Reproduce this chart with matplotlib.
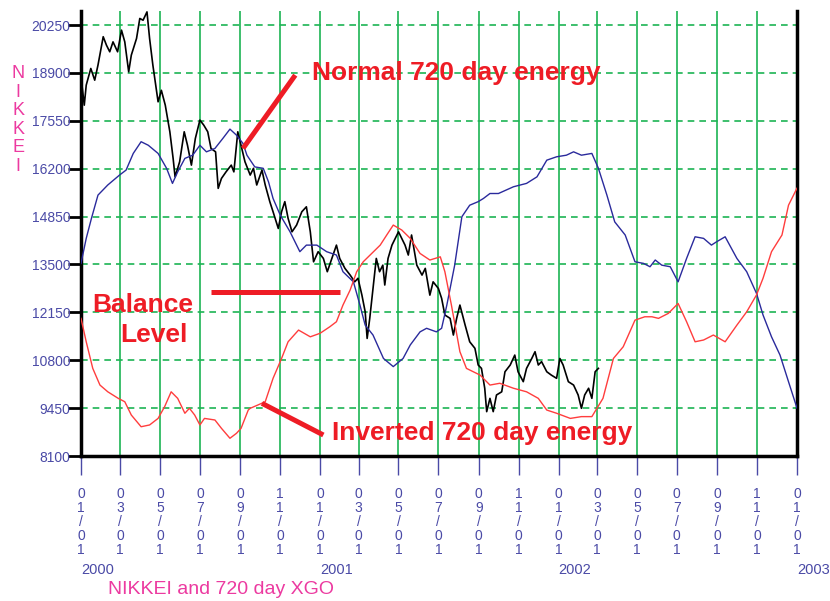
import numpy as np
import pandas as pd
import matplotlib
matplotlib.use('Agg')
import matplotlib.pyplot as plt

plt.rcParams['font.family'] = ['Liberation Sans', 'DejaVu Sans']

# ---- data (days since 2000-01-01) ----
# NIKKEI close
nikkei_day = [0, 5, 8, 15, 21, 26, 34, 39, 44, 49, 56, 62, 67, 73, 77, 85, 90, 95, 101, 105,
              110, 118, 123, 129, 136, 141, 144, 151, 158, 163, 169, 175, 182, 188, 194, 199,
              206, 210, 215, 222, 230, 234, 240, 245, 251, 259, 264, 269, 277, 282, 289, 294,
              302, 307, 312, 317, 323, 330, 338, 345, 351, 356, 363, 371, 377, 384, 391, 396,
              404, 412, 419, 424, 430, 435, 438, 442, 447, 452, 457, 462, 465, 470, 476, 481,
              486, 491, 496, 501, 506, 514, 522, 527, 534, 539, 547, 552, 557, 565, 570, 575,
              580, 588, 595, 603, 608, 613, 618, 621, 626, 631, 636, 644, 649, 657, 664, 669,
              677, 682, 690, 695, 700, 705, 713, 720, 728, 733, 738, 746, 754, 761, 766, 771,
              777, 782, 787, 792]
nikkei_val = [18790, 17990, 18555, 19025, 18695, 19120, 19920, 19680, 19495, 19775, 19495, 20105,
              19775, 18930, 19400, 19870, 20435, 20385, 20620, 19870, 19120, 18085, 18410, 17990,
              17240, 16490, 15970, 16395, 17240, 16860, 16300, 17050, 17570, 17425, 17240, 16770,
              16675, 15645, 15925, 16110, 16300, 16110, 17240, 16860, 16395, 16020, 16210, 15740,
              16160, 15740, 15270, 14985, 14515, 14985, 15270, 14800, 14420, 14610, 14985, 15125,
              14420, 13575, 13860, 13670, 13295, 13670, 14045, 13670, 13390, 13200, 13010, 13110,
              12635, 12165, 11415, 11980, 12825, 13670, 13295, 13480, 12920, 13670, 14045, 14235,
              14420, 14235, 14045, 13765, 14330, 13480, 13200, 13390, 12635, 13010, 12825, 12545,
              12075, 11980, 11510, 11980, 12355, 11790, 11320, 11135, 10665, 10570, 10010, 9350,
              9725, 9350, 9820, 9910, 10475, 10665, 10945, 10475, 10195, 10570, 10850, 11040,
              10665, 10760, 10475, 10380, 10290, 10850, 10665, 10195, 10100, 9820, 9445, 9820,
              10010, 9725, 10475, 10570]

# normal 720 day energy
normal_day = [0, 8, 16, 26, 41, 59, 69, 80, 92, 103, 118, 131, 140, 148, 159, 171, 182, 192, 205,
              217, 228, 238, 248, 254, 266, 279, 287, 294, 305, 320, 335, 345, 361, 376, 391, 401,
              417, 427, 435, 447, 463, 478, 493, 504, 519, 529, 544, 552, 560, 572, 583, 595, 608,
              616, 626, 639, 662, 682, 698, 713, 728, 743, 754, 766, 782, 792, 805, 817, 833, 848,
              861, 871, 879, 889, 902, 914, 927, 940, 953, 965, 973, 986, 1004, 1019, 1034, 1044,
              1057, 1070, 1083, 1096]
normal_val = [13530, 14235, 14800, 15455, 15740, 16020, 16160, 16630, 16960, 16860, 16630, 16210,
              15785, 16110, 16490, 16580, 16860, 16675, 16770, 17050, 17315, 17145, 16910, 16580,
              16250, 16210, 15830, 15360, 14890, 14420, 13860, 14045, 14045, 13860, 13765, 13295,
              13010, 12355, 11790, 11510, 10850, 10620, 10850, 11230, 11600, 11700, 11600, 11700,
              12355, 13480, 14845, 15170, 15270, 15360, 15500, 15500, 15690, 15785, 15970, 16440,
              16535, 16580, 16675, 16580, 16630, 16210, 15455, 14700, 14330, 13575, 13530, 13435,
              13625, 13480, 13435, 13010, 13670, 14280, 14235, 14045, 14140, 14280, 13670, 13295,
              12685, 12075, 11460, 10945, 10195, 9450]

# inverted 720 day energy
inverted_day = [0, 8, 18, 29, 41, 57, 67, 77, 92, 105, 118, 128, 138, 148, 159, 166, 174, 182,
                189, 205, 215, 228, 238, 245, 256, 259, 271, 282, 294, 307, 317, 333, 351, 366,
                381, 391, 401, 412, 422, 432, 445, 458, 468, 478, 491, 504, 519, 534, 550, 557,
                567, 580, 590, 611, 626, 641, 662, 682, 700, 713, 728, 749, 766, 782, 799, 815,
                830, 848, 863, 874, 884, 899, 914, 927, 940, 953, 968, 986, 1004, 1019, 1034,
                1044, 1057, 1073, 1083, 1096]
inverted_val = [11980, 11320, 10570, 10100, 9910, 9725, 9630, 9255, 8925, 8975, 9160, 9490, 9910,
                9725, 9305, 9445, 9255, 8975, 9160, 9115, 8880, 8600, 8740, 8880, 9395, 9445,
                9540, 9630, 10290, 10850, 11320, 11650, 11460, 11560, 11745, 11885, 12355, 12780,
                13295, 13575, 13810, 14045, 14330, 14610, 14470, 14235, 13810, 13625, 13715, 13295,
                12355, 11040, 10570, 10380, 10100, 10150, 10010, 9910, 9725, 9395, 9305, 9160,
                9210, 9210, 9725, 10850, 11180, 11930, 12025, 12025, 11980, 12120, 12400, 11885,
                11320, 11370, 11510, 11320, 11790, 12165, 12640, 13110, 13860, 14330, 15170, 15650]

y_ticks = [8100, 9450, 10800, 12150, 13500, 14850, 16200, 17550, 18900, 20250]
years = [2000, 2001, 2002, 2003]

# annotations: (text, text day, text value, line start day/value, line end day/value)
notes = [
    ('Normal 720 day energy', 354, 18696, (248, 16771), (328, 18837)),
    ('Inverted 720 day energy', 384, 8551, (277, 9585), (371, 8692)),
]
balance_line = ((199, 12722), (396, 12722))

start = np.datetime64('2000-01-01')


def to_dates(days):
    return start + np.array(days).astype('timedelta64[D]')


blue_txt = '#4a4aa6'
magenta = '#ec3aa0'
green = '#1db454'
red_txt = '#ee1c25'

fig = plt.figure(figsize=(8.3, 6.01), dpi=100)
ax = fig.add_axes([81 / 830, 145 / 601, 716 / 830, 445 / 601])

ax.plot(to_dates(nikkei_day), nikkei_val, color='black', lw=1.2, zorder=3)
ax.plot(to_dates(normal_day), normal_val, color='#2a2a9c', lw=1.0, zorder=3)
ax.plot(to_dates(inverted_day), inverted_val, color='#ff3d3d', lw=1.0, zorder=3)

ax.set_xlim(to_dates([0])[0], to_dates([1096])[0])
ax.set_ylim(8100, 20645)

# x ticks every 2 months, label characters stacked vertically
tick_dates = pd.date_range('2000-01-01', '2003-01-01', freq='2MS')
ax.set_xticks(tick_dates)
ax.set_xticklabels(['\n'.join(d.strftime('%m/%d')) for d in tick_dates])
for lab in ax.get_xticklabels():
    lab.set_linespacing(1.0)
ax.tick_params(axis='x', length=14, width=1, color=blue_txt, labelcolor=blue_txt,
               labelsize=10, pad=8)

ax.set_yticks(y_ticks)
ax.set_yticklabels([str(v) for v in y_ticks])
ax.tick_params(axis='y', length=9.5, width=2, color='black', labelcolor=blue_txt,
               labelsize=10, pad=-2)

ax.xaxis.grid(True, color=green, lw=1.2, ls='-')
ax.yaxis.grid(True, color=green, lw=1.2, ls=(0, (4, 3)))
ax.set_axisbelow(True)

ax.spines['top'].set_visible(False)
for s in ['left', 'bottom', 'right']:
    ax.spines[s].set_linewidth(2.5)
    ax.spines[s].set_color('black')

for y in years:
    ax.text(np.datetime64('%d-01-01' % y), -0.256, str(y), transform=ax.get_xaxis_transform(),
            ha='left', va='center', color=blue_txt, fontsize=10.5)

# annotations
for txt, tx, ty, p0, p1 in notes:
    ax.plot(to_dates([p0[0], p1[0]]), [p0[1], p1[1]], color=red_txt, lw=3.6,
            solid_capstyle='butt', zorder=5)
    ax.text(to_dates([tx])[0], ty, txt, color=red_txt, fontsize=19, fontweight='bold',
            ha='left', va='baseline', zorder=6)
ax.plot(to_dates([balance_line[0][0], balance_line[1][0]]),
        [balance_line[0][1], balance_line[1][1]], color=red_txt, lw=3.6,
        solid_capstyle='butt', zorder=5)
ax.text(to_dates([17])[0], 12158, 'Balance', color=red_txt, fontsize=19, fontweight='bold',
        ha='left', va='baseline', zorder=6)
ax.text(to_dates([60])[0], 11313, 'Level', color=red_txt, fontsize=19, fontweight='bold',
        ha='left', va='baseline', zorder=6)

fig.text(18 / 830, 1 - 120 / 601, 'N\nI\nK\nK\nE\nI', ha='center', va='center',
         fontsize=13, linespacing=1.12, color=magenta)
fig.text(108 / 830, 1 - 590 / 601, 'NIKKEI and 720 day XGO', ha='left', va='center',
         fontsize=14, color=magenta)

fig.savefig('out.png', dpi=100)
